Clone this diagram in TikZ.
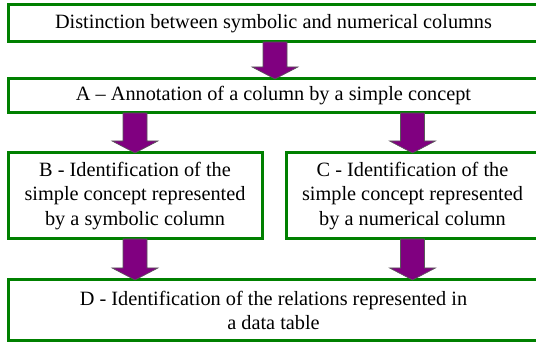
\documentclass[tikz,border=0pt]{standalone}
\usepackage{fontspec}
\setmainfont{Liberation Serif}
\usetikzlibrary{calc}
\definecolor{boxgreen}{RGB}{0,128,0}
\definecolor{arrowpurple}{RGB}{128,0,128}
\begin{document}
\begin{tikzpicture}[x=1pt,y=-1pt,
  stepbox/.style={draw=boxgreen, line width=3pt, outer sep=0pt, inner sep=0pt,
    align=center, font=\fontsize{20.3}{24.5}\selectfont},
  blockarrow/.style={to path={let \p1=(\tikztostart), \p2=(\tikztotarget) in
    ({\x1-12pt},{\y1}) -- ({\x1-12pt},{\y2+12pt}) -- ({\x1-23pt},{\y2+12pt}) --
    ({\x1},{\y2}) -- ({\x1+23pt},{\y2+12pt}) -- ({\x1+12pt},{\y2+12pt}) --
    ({\x1+12pt},{\y1}) -- cycle}},
  barrow/.style={fill=arrowpurple, draw=black!65, line width=0.6pt, line join=miter}]
\useasboundingbox (0,0) rectangle (536,347);
\clip (0,0) rectangle (536,347);
\node[stepbox, minimum width=531pt, minimum height=37pt] (top) at (273.5,23.5)
  {Distinction between symbolic and numerical columns};
\node[stepbox, minimum width=531pt, minimum height=34pt] (A) at (273.5,96)
  {A -- Annotation of a column by a simple concept};
\node[stepbox, minimum width=254pt, minimum height=86pt] (B) at (135,196)
  {B - Identification of the\\simple concept represented\\by a symbolic column};
\node[stepbox, minimum width=253pt, minimum height=86pt] (C) at (412.5,196)
  {C - Identification of the\\simple concept represented\\by a numerical column};
\node[stepbox, minimum width=531pt, minimum height=61pt] (D) at (273.5,310.5)
  {D - Identification of the relations represented in\\a data table};
\coordinate (a1) at (275,0);
\draw[barrow] (top.south -| a1) to[blockarrow] (A.north -| a1);
\draw[barrow] (A.south -| B.south) to[blockarrow] (B.north);
\draw[barrow] (A.south -| C.south) to[blockarrow] (C.north);
\draw[barrow] (B.south) to[blockarrow] (B.south |- D.north);
\draw[barrow] (C.south) to[blockarrow] (C.south |- D.north);
\end{tikzpicture}
\end{document}
